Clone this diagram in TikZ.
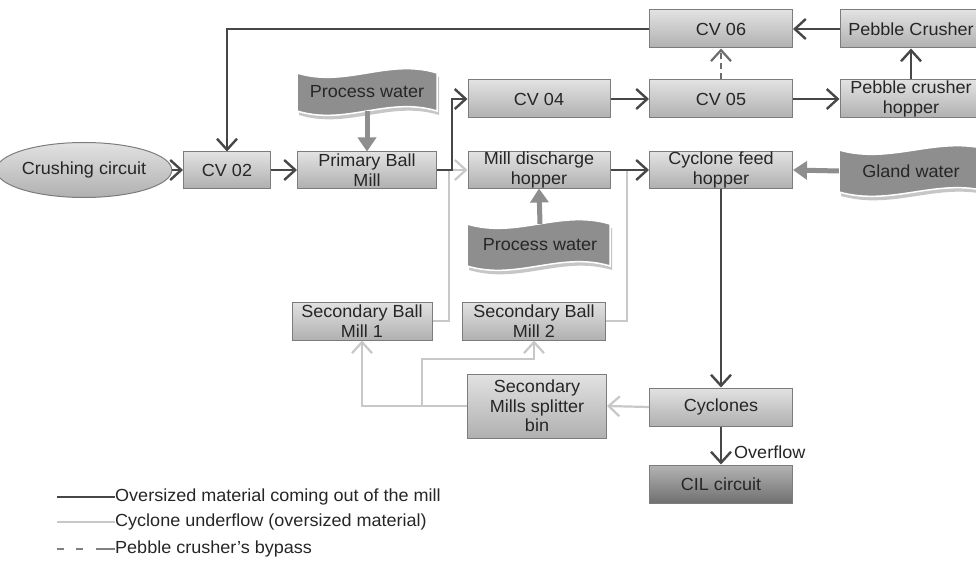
\documentclass[tikz,border=0pt]{standalone}
\usepackage{fontspec}
\setmainfont{Liberation Sans}[FakeStretch=1.03]
\usetikzlibrary{arrows.meta,shapes.geometric}
\definecolor{dk}{HTML}{474747}
\definecolor{lt}{HTML}{C8C8C8}
\definecolor{bd}{HTML}{7C7C7C}
\definecolor{btop}{HTML}{E2E2E2}
\definecolor{bbot}{HTML}{B0B0B0}
\definecolor{wv}{HTML}{8E8E8E}
\definecolor{tx}{HTML}{262626}
\definecolor{ctop}{HTML}{B4B4B4}
\definecolor{cbot}{HTML}{707070}
\newcommand\fs{\fontsize{17.5}{19.5}\selectfont}
\tikzset{
  box/.style={draw=bd, line width=1pt, top color=btop, bottom color=bbot,
    minimum width=143, minimum height=38, inner sep=0pt, align=center,
    text=tx, font=\fs},
  cilbox/.style={box, top color=ctop, bottom color=cbot},
  oval/.style={ellipse, draw=bd, line width=1pt, top color=btop, bottom color=bbot,
    minimum width=143, minimum height=55, inner sep=0pt, text=tx, font=\fs},
  wavesh/.style n args={4}{insert path={(#1,#2) .. controls ({#1+0.35*(#3-#1)},{#2+15}) and ({#1+0.65*(#3-#1)},{#2-15}) .. (#3,#2) -- (#3,#4) .. controls ({#3-0.35*(#3-#1)},{#4-15}) and ({#3-0.65*(#3-#1)},{#4+15}) .. (#1,#4) -- cycle}},
  wavetxt/.style={inner sep=0pt, text=tx, font=\fs},
  vee/.style={-{Straight Barb[length=11pt,width=20pt]}},
  dkline/.style={draw=dk, line width=2.4pt, vee},
  ltline/.style={draw=lt, line width=2.2pt, vee},
  bypass/.style={draw=dk!80, line width=2.2pt, dash pattern=on 6pt off 4pt, vee},
  water/.style={draw=wv, line width=5pt, -{Triangle[length=14pt,width=18pt]}},
  legtxt/.style={anchor=west, inner sep=0pt, text=tx, font=\fs},
}
\begin{document}
\begin{tikzpicture}[x=1pt,y=-1pt]
\useasboundingbox (0,0) rectangle (976,564);

% wave shapes
\fill[gray!45, shift={(2,4)}, wavesh={297}{73}{437}{111}];
\path[fill=wv, draw=white, line width=1.5pt, wavesh={297}{73}{437}{111}];
\fill[gray!45, shift={(2,4)}, wavesh={467}{224}{610}{266}];
\path[fill=wv, draw=white, line width=1.5pt, wavesh={467}{224}{610}{266}];
\fill[gray!45, shift={(2,4)}, wavesh={839}{150}{990}{192}];
\path[fill=wv, draw=white, line width=1.5pt, wavesh={839}{150}{990}{192}];

\node[wavetxt, minimum width=140, minimum height=38] (pw1) at (367,92) {Process water};
\node[wavetxt, minimum width=143, minimum height=42] (pw2) at (540,245) {Process water};
\node[wavetxt, minimum width=144, minimum height=42] (gw) at (911,171) {Gland water};

% nodes
\node[oval] (cc) at (84,170) {Crushing circuit};
\node[box, minimum width=87, minimum height=36] (cv02) at (227,170) {CV 02};
\node[box, minimum width=139, minimum height=36] (pbm) at (367,170) {Primary Ball\\Mill};
\node[box, minimum width=142] (cv04) at (539,99) {CV 04};
\node[box, minimum width=142, minimum height=36] (mdh) at (539,170) {Mill discharge\\hopper};
\node[box] (cv05) at (721,99) {CV 05};
\node[box] (cv06) at (721,29) {CV 06};
\node[box, minimum width=142] (pc) at (911,29) {Pebble Crusher};
\node[box, minimum width=142] (pch) at (911,99) {Pebble crusher\\hopper};
\node[box, minimum height=36] (cfh) at (721,170) {Cyclone feed\\hopper};
\node[box, minimum width=140] (sbm1) at (362,321) {Secondary Ball\\Mill 1};
\node[box] (sbm2) at (534,321) {Secondary Ball\\Mill 2};
\node[box, minimum width=139, minimum height=64] (split) at (537,406) {Secondary\\Mills splitter\\bin};
\node[box] (cyc) at (721,407) {Cyclones};
\node[cilbox] (cil) at (721,484) {CIL circuit};

% junction coordinates
\coordinate (j1) at (452,170);
\coordinate (j2) at (449,170);
\coordinate (j3) at (627,170);
\coordinate (j4) at (422,406);
\coordinate (j5) at (422,359);

% light (cyclone underflow) lines
\draw[ltline, -] (sbm1.east) -| (j2);
\draw[ltline] (j2) -- (mdh.west);
\draw[ltline, -] (sbm2.east) -| (j3);
\draw[ltline] (cyc.west) -- (split.east);
\draw[ltline] (split.west) -| (sbm1.south);
\draw[ltline] (j4) -- (j5) -| (sbm2.south);

% dark lines
\draw[dkline] (cc.east) -- (cv02.west);
\draw[dkline] (cv02.east) -- (pbm.west);
\draw[dkline] (pbm.east) -- (j1) |- (cv04.west);
\draw[dkline] (cv04.east) -- (cv05.west);
\draw[dkline] (cv05.east) -- (pch.west);
\draw[dkline] (pch.north) -- (pc.south);
\draw[dkline] (pc.west) -- (cv06.east);
\draw[dkline] (cv06.west) -| (cv02.north);
\draw[dkline] (mdh.east) -- (cfh.west);
\draw[dkline] (cfh.south) -- (cyc.north);
\draw[dkline] (cyc.south) -- node[pos=0.67, right, inner sep=0pt, xshift=12pt, text=tx, font=\fs] (ovf) {Overflow} (cil.north);
\draw[bypass] (cv05.north) -- (cv06.south);

% water arrows
\draw[water] (pw1.south) -- (pbm.north);
\draw[water] (pw2.north) -- (mdh.south);
\draw[water] (gw.west) -- (cfh.east);

% legend
\node[legtxt] (l1) at (115,497) {Oversized material coming out of the mill};
\node[legtxt] (l2) at (115,522) {Cyclone underflow (oversized material)};
\node[legtxt] (l3) at (115,549) {Pebble crusher's bypass};
\coordinate (s1) at (57,497);
\coordinate (s2) at (57,522);
\coordinate (s3) at (57,549);
\draw[draw=dk, line width=2.4pt] (s1) -- (l1.west);
\draw[draw=lt, line width=2.2pt] (s2) -- (l2.west);
\draw[draw=gray, line width=2.2pt, dash pattern=on 7pt off 12pt on 7pt off 13pt on 19pt off 1pt] (s3) -- (l3.west);
\end{tikzpicture}
\end{document}
